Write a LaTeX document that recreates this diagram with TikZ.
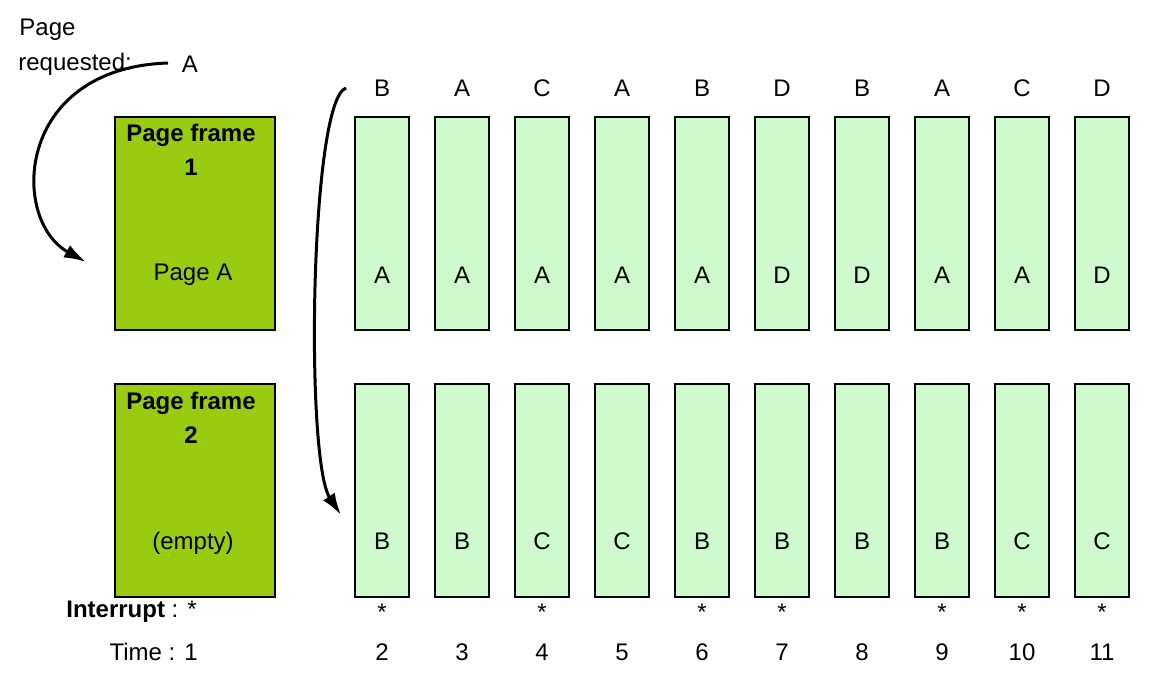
\documentclass[tikz,border=0pt]{standalone}
\usepackage{fontspec}
\setmainfont{Liberation Sans}
\usetikzlibrary{arrows.meta}

\definecolor{framegreen}{RGB}{153,204,17}
\definecolor{slotgreen}{RGB}{206,250,206}

\tikzset{
  bigframe/.style={draw, line width=1.2pt, fill=framegreen, minimum width=80pt, minimum height=106.5pt, inner sep=0pt},
  slot/.style={draw, line width=1.2pt, fill=slotgreen, minimum width=27pt, minimum height=106.5pt, inner sep=0pt},
  lbl/.style={inner sep=1pt, font=\fontsize{12}{14}\selectfont},
  curvearrow/.style={line width=1.5pt, -{Latex[length=11pt,width=7pt]}}
}

\begin{document}
\begin{tikzpicture}[x=0.5pt, y=-0.5pt]
  \useasboundingbox (0,0) rectangle (1149,683);

  % left side: the two page frames
  \node[bigframe] (frame1) at (195,223.5) {};
  \node[bigframe] (frame2) at (195,490.5) {};
  \node[lbl, font=\fontsize{12}{14}\selectfont\bfseries, align=center] (f1title) at (191,150) {Page frame\\[3pt]1};
  \node[lbl] (f1page) at (193,275) {Page A};
  \node[lbl, font=\fontsize{12}{14}\selectfont\bfseries, align=center] (f2title) at (191,418) {Page frame\\[3pt]2};
  \node[lbl] (f2page) at (193,543) {(empty)};

  % request label
  \node[lbl, anchor=west] (req1) at (17,30) {Page};
  \node[lbl, anchor=west] (req2) at (16,64) {requested:};
  \node[lbl] (reqA) at (190,64) {A};

  % bottom rows
  \node[lbl, anchor=east] (introw) at (199,612) {\textbf{Interrupt} : *};
  \node[lbl, anchor=east] (timerow) at (200,652) {Time : 1};

  % columns over time
  \foreach \i/\r/\a/\b/\s in {1/B/A/B/*, 2/A/A/B/, 3/C/A/C/*, 4/A/A/C/, 5/B/A/B/*,
                              6/D/D/B/*, 7/B/D/B/, 8/A/A/B/*, 9/C/A/C/*, 10/D/D/C/*}{
    \pgfmathsetmacro{\cx}{382+80*(\i-1)}
    \pgfmathtruncatemacro{\tm}{\i+1}
    \node[lbl] (ref\i) at (\cx,88) {\r};
    \node[slot] (top\i) at (\cx,223.5) {};
    \node[slot] (bot\i) at (\cx,490.5) {};
    \node[lbl] (topl\i) at (\cx,275) {\a};
    \node[lbl] (botl\i) at (\cx,541) {\b};
    \node[lbl] (star\i) at (\cx,612) {\s};
    \node[lbl] (time\i) at (\cx,652) {\tm};
  }

  % arrows
  \coordinate (reqstart) at (168,63);
  \coordinate (reqend) at (86,262);
  \coordinate (seqstart) at (346,88);
  \coordinate (seqend) at (341,515);
  \draw[curvearrow] (reqstart) .. controls (15,68) and (10,220) .. (reqend);
  \draw[curvearrow] (seqstart) .. controls (310,100) and (305,460) .. (seqend);
\end{tikzpicture}
\end{document}
